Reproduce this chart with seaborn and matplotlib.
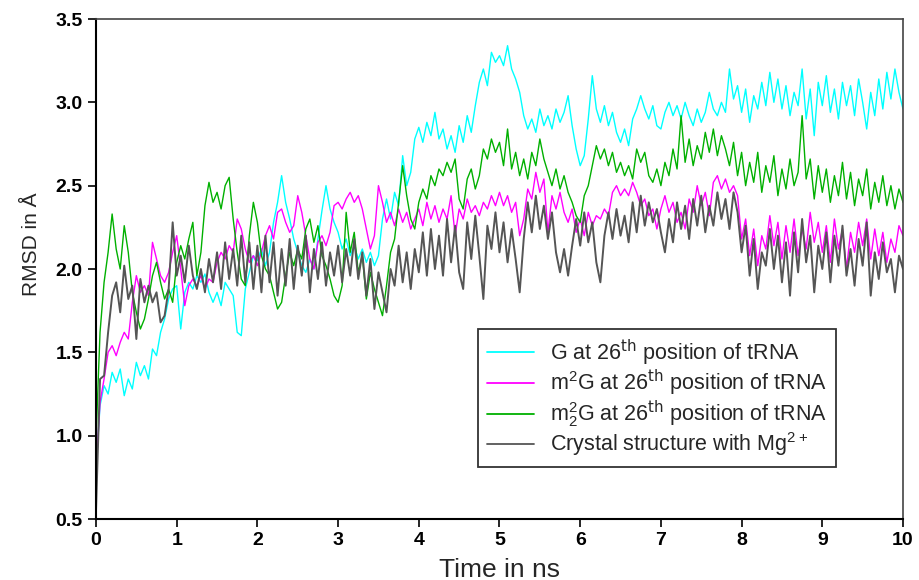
import numpy as np
import pandas as pd
import matplotlib
matplotlib.use('Agg')
import matplotlib.pyplot as plt
import seaborn as sns

# time axis (ns), one reading every 0.05 ns
time_ns = np.linspace(0, 10, 201)

# G at 26th position of tRNA
rmsd_g = [
    0.80, 1.18, 1.30, 1.25, 1.38, 1.32, 1.40, 1.24, 1.34, 1.28, 1.44, 1.36, 1.42, 1.34, 1.52, 1.48, 1.62, 1.70, 1.82, 1.88,
    1.90, 1.64, 1.86, 1.92, 1.88, 1.96, 1.92, 1.97, 1.86, 1.80, 1.86, 1.78, 1.92, 1.88, 1.84, 1.62, 1.60, 1.88, 1.98, 2.08,
    2.05, 2.12, 2.02, 2.10, 2.28, 2.40, 2.56, 2.40, 2.30, 2.18, 2.10, 2.02, 1.98, 2.06, 2.00, 2.18, 2.35, 2.50, 2.36, 2.28,
    2.22, 2.12, 2.18, 2.08, 2.14, 2.06, 2.12, 2.04, 2.10, 2.02, 2.08, 2.30, 2.42, 2.30, 2.46, 2.38, 2.68, 2.50, 2.58, 2.78,
    2.85, 2.76, 2.88, 2.80, 2.94, 2.78, 2.84, 2.72, 2.80, 2.70, 2.86, 2.76, 2.92, 2.82, 2.98, 3.12, 3.20, 3.10, 3.30, 3.24,
    3.28, 3.22, 3.34, 3.20, 3.14, 3.06, 2.92, 2.84, 2.90, 2.82, 2.96, 2.86, 2.92, 2.84, 2.96, 2.88, 2.94, 3.04, 2.86, 2.72,
    2.62, 2.68, 2.90, 3.16, 2.96, 2.88, 2.98, 2.86, 2.94, 2.82, 2.76, 2.84, 2.74, 2.90, 2.96, 3.04, 2.96, 2.90, 2.98, 2.86,
    2.84, 2.94, 3.00, 2.92, 2.98, 2.90, 3.00, 2.92, 2.86, 2.96, 2.88, 2.94, 3.06, 2.96, 2.92, 3.00, 2.94, 3.20, 3.02, 3.10,
    2.94, 3.08, 2.88, 3.04, 2.96, 3.12, 2.98, 3.18, 3.00, 3.14, 2.96, 3.10, 2.92, 3.06, 2.98, 3.20, 2.90, 3.08, 2.80, 3.12,
    2.98, 3.16, 2.94, 3.08, 2.90, 3.12, 2.98, 3.10, 2.92, 3.14, 3.00, 2.84, 3.06, 2.92, 3.14, 2.96, 3.18, 3.02, 3.20, 3.06,
    2.96,
]

# m2G at 26th position of tRNA
rmsd_m2g = [
    0.78, 1.20, 1.34, 1.50, 1.54, 1.48, 1.56, 1.62, 1.58, 1.80, 1.96, 1.86, 1.90, 1.84, 2.16, 2.06, 1.96, 1.92, 1.98, 2.10,
    2.20, 2.00, 1.78, 1.90, 1.94, 1.90, 1.96, 1.88, 1.94, 1.92, 2.04, 2.10, 2.06, 2.14, 2.10, 2.30, 2.24, 2.12, 2.04, 2.08,
    2.02, 2.10, 2.20, 2.26, 2.18, 2.34, 2.36, 2.28, 2.22, 2.26, 2.44, 2.34, 2.20, 2.06, 2.00, 2.16, 2.20, 2.14, 2.22, 2.38,
    2.40, 2.36, 2.42, 2.46, 2.40, 2.44, 2.36, 2.24, 2.12, 2.20, 2.50, 2.40, 2.28, 2.34, 2.26, 2.36, 2.28, 2.34, 2.24, 2.30,
    2.36, 2.26, 2.40, 2.30, 2.38, 2.28, 2.36, 2.30, 2.44, 2.20, 2.36, 2.30, 2.42, 2.34, 2.38, 2.32, 2.40, 2.36, 2.44, 2.38,
    2.46, 2.38, 2.44, 2.34, 2.40, 2.20, 2.30, 2.48, 2.42, 2.58, 2.46, 2.54, 2.22, 2.44, 2.36, 2.46, 2.34, 2.28, 2.36, 2.22,
    2.30, 2.20, 2.34, 2.26, 2.32, 2.30, 2.36, 2.32, 2.46, 2.50, 2.44, 2.48, 2.44, 2.52, 2.46, 2.38, 2.42, 2.32, 2.36, 2.24,
    2.36, 2.44, 2.34, 2.40, 2.28, 2.34, 2.24, 2.42, 2.34, 2.50, 2.38, 2.46, 2.32, 2.52, 2.56, 2.48, 2.54, 2.46, 2.50, 2.44,
    2.18, 2.30, 2.08, 2.24, 2.02, 2.20, 2.12, 2.32, 2.14, 2.28, 2.06, 2.26, 2.10, 2.30, 2.08, 2.24, 2.12, 2.34, 2.16, 2.28,
    2.10, 2.26, 2.04, 2.30, 2.12, 2.24, 2.00, 2.22, 2.10, 2.28, 2.14, 2.30, 2.06, 2.24, 2.08, 2.22, 2.04, 2.18, 2.10, 2.26,
    2.20,
]

# m2,2G at 26th position of tRNA
rmsd_m22g = [
    0.98, 1.62, 1.92, 2.10, 2.33, 2.12, 2.00, 2.26, 2.10, 1.86, 1.74, 1.64, 1.70, 1.82, 1.96, 2.04, 1.92, 1.82, 1.88, 1.80,
    2.04, 2.14, 2.06, 2.18, 2.28, 1.96, 2.10, 2.38, 2.52, 2.40, 2.46, 2.36, 2.50, 2.55, 2.30, 2.10, 1.94, 1.90, 2.20, 2.40,
    2.28, 2.08, 2.00, 1.96, 1.86, 1.76, 1.80, 1.96, 2.10, 2.02, 2.12, 2.06, 2.24, 2.30, 2.16, 2.26, 2.08, 2.02, 1.94, 1.84,
    1.80, 1.90, 2.34, 2.10, 2.22, 1.98, 2.08, 1.82, 1.98, 1.88, 1.80, 1.72, 1.90, 2.10, 2.18, 2.40, 2.62, 2.44, 2.30, 2.24,
    2.40, 2.48, 2.42, 2.56, 2.50, 2.60, 2.56, 2.64, 2.58, 2.66, 2.42, 2.36, 2.54, 2.60, 2.48, 2.56, 2.72, 2.66, 2.78, 2.70,
    2.76, 2.62, 2.84, 2.60, 2.70, 2.56, 2.66, 2.54, 2.70, 2.62, 2.78, 2.66, 2.58, 2.50, 2.60, 2.48, 2.56, 2.46, 2.40, 2.32,
    2.28, 2.44, 2.50, 2.62, 2.74, 2.66, 2.72, 2.62, 2.70, 2.58, 2.64, 2.56, 2.62, 2.54, 2.72, 2.64, 2.70, 2.56, 2.52, 2.60,
    2.50, 2.64, 2.56, 2.72, 2.60, 2.92, 2.64, 2.78, 2.62, 2.74, 2.66, 2.82, 2.70, 2.84, 2.68, 2.80, 2.72, 2.62, 2.76, 2.56,
    2.70, 2.50, 2.64, 2.52, 2.70, 2.46, 2.62, 2.52, 2.68, 2.44, 2.60, 2.48, 2.66, 2.50, 2.58, 2.92, 2.54, 2.66, 2.42, 2.62,
    2.46, 2.60, 2.40, 2.56, 2.44, 2.64, 2.42, 2.58, 2.38, 2.54, 2.44, 2.60, 2.36, 2.52, 2.40, 2.56, 2.38, 2.50, 2.36, 2.48,
    2.40,
]

# crystal structure with Mg2+
rmsd_crystal = [
    0.55, 1.34, 1.36, 1.62, 1.84, 1.92, 1.74, 2.02, 1.82, 1.90, 1.58, 1.94, 1.80, 1.90, 1.80, 1.86, 1.68, 1.72, 1.88, 2.28,
    1.96, 2.08, 1.92, 2.14, 1.96, 1.88, 2.00, 1.86, 2.06, 1.92, 2.10, 1.88, 2.16, 1.94, 2.12, 1.90, 2.20, 1.92, 2.16, 1.88,
    2.14, 1.86, 2.20, 1.92, 2.16, 1.84, 2.12, 1.90, 2.18, 1.88, 2.14, 1.96, 2.20, 1.86, 2.12, 1.94, 2.16, 1.90, 2.10, 1.96,
    2.14, 1.92, 2.12, 1.96, 2.18, 1.94, 2.10, 1.84, 2.06, 1.76, 1.98, 1.86, 1.74, 2.00, 1.90, 2.14, 1.92, 2.10, 1.88, 2.12,
    1.98, 2.22, 1.96, 2.24, 2.00, 2.20, 1.96, 2.30, 2.04, 2.26, 1.98, 1.88, 2.28, 2.06, 2.32, 2.08, 1.82, 2.26, 2.12, 2.34,
    2.10, 2.28, 2.04, 2.24, 2.06, 1.86, 2.18, 2.40, 2.22, 2.44, 2.24, 2.38, 2.18, 2.34, 2.10, 1.98, 2.12, 1.96, 2.14, 2.30,
    2.14, 2.34, 2.16, 2.28, 2.04, 1.92, 2.20, 2.34, 2.18, 2.36, 2.20, 2.32, 2.16, 2.40, 2.22, 2.44, 2.26, 2.40, 2.28, 2.36,
    2.22, 2.10, 2.30, 2.16, 2.40, 2.24, 2.38, 2.18, 2.42, 2.26, 2.44, 2.22, 2.38, 2.26, 2.46, 2.30, 2.42, 2.24, 2.46, 2.34,
    2.10, 2.26, 1.96, 2.18, 1.88, 2.10, 2.02, 2.24, 2.00, 2.20, 1.92, 2.16, 1.84, 2.22, 1.98, 2.30, 2.04, 2.20, 1.86, 2.14,
    2.00, 2.22, 1.92, 2.20, 2.02, 2.26, 1.96, 2.12, 1.90, 2.18, 2.02, 2.28, 1.84, 2.10, 1.94, 2.16, 1.98, 2.06, 1.86, 2.08,
    2.00,
]

labels = [
    r'G at 26$^{\mathrm{th}}$ position of tRNA',
    r'm$^{2}$G at 26$^{\mathrm{th}}$ position of tRNA',
    r'm$^{2}_{2}$G at 26$^{\mathrm{th}}$ position of tRNA',
    r'Crystal structure with Mg$^{2+}$',
]
colors = ['#00FFFF', '#FF00FF', '#00B000', '#555555']
widths = [1.0, 1.0, 1.0, 1.4]

sns.set_style('ticks')
plt.rcParams['font.family'] = ['Liberation Sans', 'DejaVu Sans']
plt.rcParams['mathtext.default'] = 'regular'

fig = plt.figure(figsize=(9.2, 5.8), dpi=100)
ax = fig.add_axes([96 / 920, 1 - 519 / 580, 807 / 920, 500 / 580])

for y, lab, c, lw in zip([rmsd_g, rmsd_m2g, rmsd_m22g, rmsd_crystal], labels, colors, widths):
    sns.lineplot(x=time_ns, y=y, ax=ax, color=c, linewidth=lw, label=lab,
                 estimator=None, sort=False)

ax.set_xlim(0, 10)
ax.set_ylim(0.5, 3.5)
ax.set_xticks(range(0, 11))
ax.set_yticks([0.5, 1.0, 1.5, 2.0, 2.5, 3.0, 3.5])
ax.set_yticklabels(['0.5', '1.0', '1.5', '2.0', '2.5', '3.0', '3.5'])
for lab in ax.get_xticklabels() + ax.get_yticklabels():
    lab.set_fontweight('bold')
ax.tick_params(direction='out', length=6, width=1.2, labelsize=14, colors='black')

for side in ['left', 'bottom']:
    ax.spines[side].set_linewidth(1.5)
    ax.spines[side].set_color('black')
for side in ['top', 'right']:
    ax.spines[side].set_visible(True)
    ax.spines[side].set_linewidth(1.2)
    ax.spines[side].set_color('#444444')

ax.set_xlabel('Time in ns', fontsize=19, labelpad=6)
ax.set_ylabel('RMSD in Å', fontsize=15)
ax.yaxis.set_label_coords(-0.068, 0.55)

leg = ax.legend(loc='upper left', bbox_to_anchor=(382 / 807, 1 - 310 / 500),
                fontsize=15.5, frameon=True, fancybox=False, handlelength=2.2,
                handletextpad=0.75, labelspacing=0.02, borderpad=0.4, borderaxespad=0)
leg.get_frame().set_edgecolor('black')
leg.get_frame().set_linewidth(1.3)
for line in leg.get_lines():
    line.set_linewidth(1.3)

fig.savefig('out.png', dpi=100)
